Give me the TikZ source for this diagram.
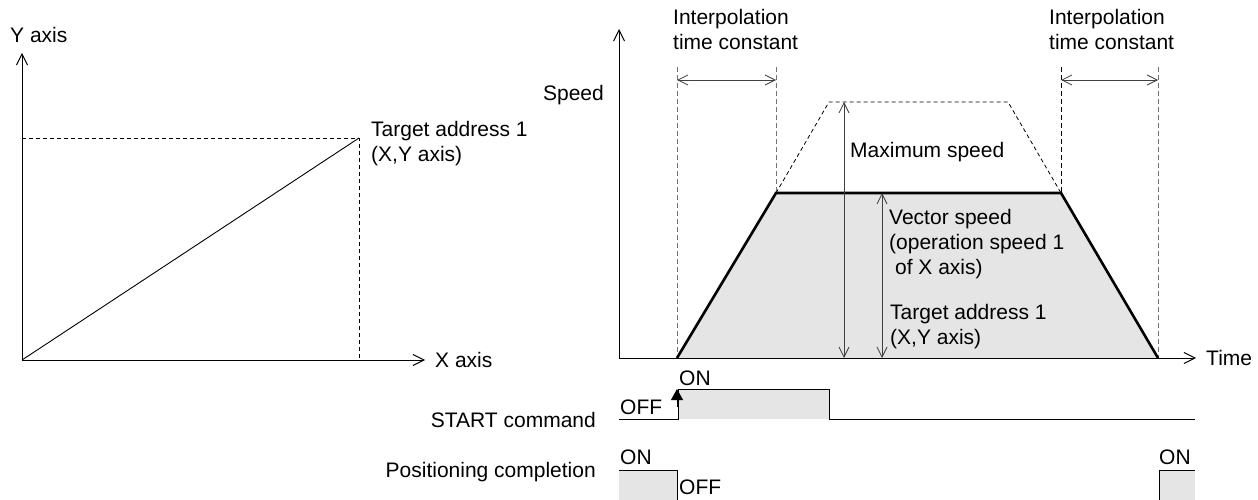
\documentclass[tikz,border=0pt]{standalone}
\usepackage{fontspec}
\setmainfont{Liberation Sans}
\usetikzlibrary{positioning,arrows.meta}

\begin{document}
\begin{tikzpicture}[
  x=1pt, y=-1pt,
  lbl/.style={inner sep=0pt, font=\fontsize{21}{25}\selectfont},
  axis/.style={line width=1pt, -{Straight Barb[length=11pt,width=11pt]}},
  dimarr/.style={line width=0.8pt, black!75,
                 {Straight Barb[length=10pt,width=10pt]}-{Straight Barb[length=10pt,width=10pt]}},
  guide/.style={line width=0.9pt, black!55, dash pattern=on 5pt off 3pt},
  ghost/.style={line width=0.8pt, dash pattern=on 4pt off 3pt},
  profile/.style={line width=2.6pt, line join=miter},
  signal/.style={line width=1pt},
  onfill/.style={fill=black!10}
]
\useasboundingbox (0,0) rectangle (1258,500);

% X-Y path
\coordinate (o1) at (22,360);
\coordinate (ytip1) at (22,53);
\coordinate (xtip1) at (425,360);
\coordinate (tgt) at (359,138);
\draw[ghost] (o1 |- tgt) -- (tgt) -- (tgt |- o1);
\draw[line width=0.9pt] (o1) -- (tgt);
\draw[axis] (o1) -- (ytip1);
\draw[axis] (o1) -- (xtip1);
\node[lbl, anchor=base west] (ylab) at (10,42.5) {Y axis};
\node[lbl, right=10pt of xtip1] (xlab) {X axis};
\node[lbl, align=left, anchor=north west] (tgtlab) at (371,121.5)
  {Target address 1\\(X,Y axis)};

% speed profile
\coordinate (o2) at (619,358);
\coordinate (ytip2) at (619,29);
\coordinate (ttip) at (1196,358);
\coordinate (p0) at (677,358);
\coordinate (p1) at (776,193);
\coordinate (p2) at (1061,193);
\coordinate (p3) at (1158,358);
\coordinate (m1) at (829,102);
\coordinate (m2) at (1008,102);
\coordinate (gtop) at (0,67);
\coordinate (dimy) at (0,80);
\coordinate (vmax) at (844,102);
\coordinate (vvec) at (882,193);

\fill[onfill] (p0) -- (p1) -- (p2) -- (p3) -- cycle;
\draw[guide] (p0 |- gtop) -- (p0);
\draw[guide] (p1 |- gtop) -- (p1);
\draw[guide, black] (p2 |- gtop) -- (p2);
\draw[guide] (p3 |- gtop) -- (p3);
\draw[dimarr] (p0 |- dimy) -- (p1 |- dimy);
\draw[dimarr] (p2 |- dimy) -- (p3 |- dimy);
\draw[ghost] (p1) -- (m1) -- (m2) -- (p2);
\draw[profile] (p0) -- (p1) -- (p2) -- (p3);
\draw[dimarr] (vmax) -- (vmax |- o2);
\draw[dimarr] (vvec) -- (vvec |- o2);
\draw[axis] (o2) -- (ytip2);
\draw[axis] (o2) -- (ttip);

\node[lbl, anchor=base east] (speedlab) at (604,100.5) {Speed};
\node[lbl, right=10pt of ttip] (timelab) {Time};
\node[lbl, align=left, anchor=north west] (ipl1) at (673,9)
  {Interpolation\\time constant};
\node[lbl, align=left, anchor=north west] (ipl2) at (1049,9)
  {Interpolation\\time constant};
\node[lbl, anchor=base west] (maxlab) at (850,157.5) {Maximum speed};
\node[lbl, align=left, anchor=north west] (veclab) at (889,209)
  {Vector speed\\(operation speed 1\\\hspace*{0.28em}of X axis)};
\node[lbl, align=left, anchor=north west] (tgtlab2) at (890,304)
  {Target address 1\\(X,Y axis)};

% START command
\coordinate (s0) at (619,419);
\coordinate (s1) at (678,419);
\coordinate (s2) at (678,389);
\coordinate (s3) at (829,389);
\coordinate (s4) at (829,419);
\coordinate (s5) at (1195,419);
\coordinate (trig) at (677,407);
\fill[onfill] (s1) rectangle (s3);
\draw[signal] (s0) -- (s1) -- (s2) -- (s3) -- (s4) -- (s5);
\draw[line width=1pt, -{Triangle[length=11pt,width=12pt]}] (trig) -- (trig |- s2);
\node[lbl, anchor=base east] (startlab) at (596,427.5) {START command};
\node[lbl, anchor=base west] (starton) at (679,385.5) {ON};
\node[lbl, anchor=base west] (startoff) at (620,414.5) {OFF};

% positioning completion
\coordinate (c0) at (619,470);
\coordinate (c1) at (677,470);
\coordinate (c2) at (677,500);
\coordinate (c3) at (1159,500);
\coordinate (c4) at (1159,470);
\coordinate (c5) at (1195,470);
\fill[onfill] (c0) rectangle (c2);
\fill[onfill] (c4) rectangle (c5 |- c3);
\draw[signal] (c0) -- (c1) -- (c2);
\draw[signal] (c3) -- (c4) -- (c5);
\node[lbl, anchor=base east] (pclab) at (596,477.5) {Positioning completion};
\node[lbl, anchor=base west] (pcon1) at (620,464.5) {ON};
\node[lbl, anchor=base west] (pcoff) at (679,494.5) {OFF};
\node[lbl, anchor=base west] (pcon2) at (1159,464.5) {ON};
\end{tikzpicture}
\end{document}
